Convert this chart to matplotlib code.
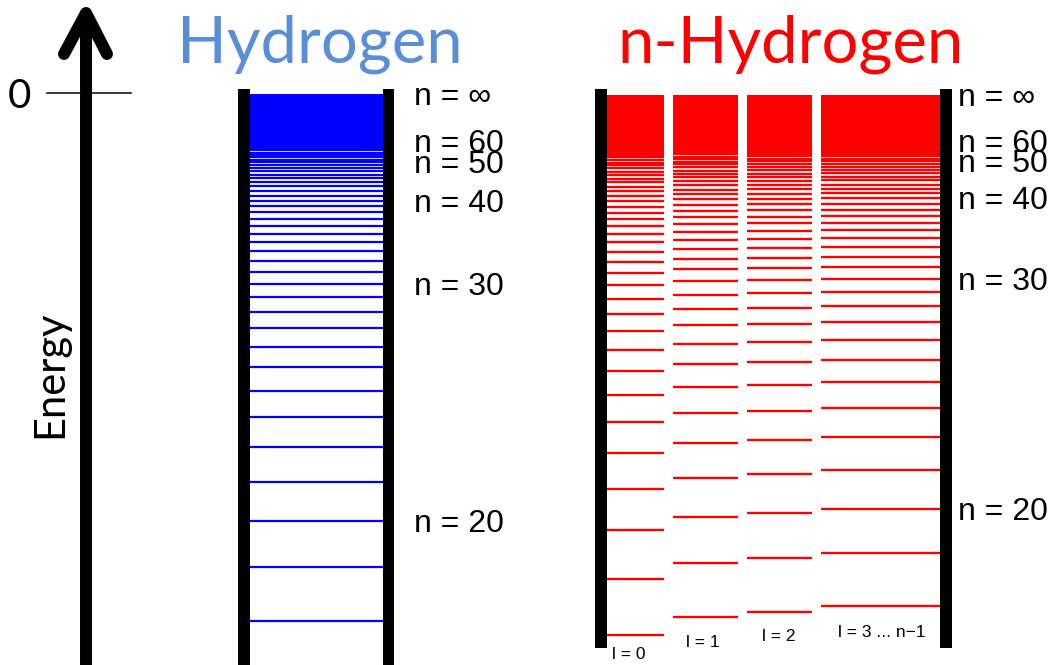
import numpy as np
import matplotlib
matplotlib.use('Agg')
import matplotlib.pyplot as plt
from matplotlib.patches import Rectangle

# ---------------- data ----------------
principal_n = np.arange(18, 401)                  # principal quantum numbers of drawn levels
label_n = [np.inf, 60, 50, 40, 30, 20]            # levels that get an "n = ..." label
label_text = ['n = ∞', 'n = 60', 'n = 50', 'n = 40', 'n = 30', 'n = 20']
l_names = ['l = 0', 'l = 1', 'l = 2', 'l = 3 ... n\u22121']
quantum_defects = [0.5, 0.2, 0.1, 0.0]            # n-Hydrogen defect per l column
n_axis_min = 17.3                                 # lowest n visible at the bottom of the panels

# ---------------- layout ----------------
W, H = 1056, 665
fig = plt.figure(figsize=(W / 100, H / 100), dpi=100)
ov = fig.add_axes([0, 0, 1, 1])
ov.set_xlim(0, W)
ov.set_ylim(H, 0)
ov.axis('off')


def fwd(n):
    n = np.asarray(n, dtype=float)
    with np.errstate(divide='ignore'):
        return -1.0 / np.square(n)


def inv(e):
    e = np.asarray(e, dtype=float)
    return 1.0 / np.sqrt(np.maximum(-e, 1e-300))


def level_axes(x0, x1, ytop, ybot):
    ax = fig.add_axes([x0 / W, 1 - ybot / H, (x1 - x0) / W, (ybot - ytop) / H])
    ax.set_yscale('function', functions=(fwd, inv))
    ax.set_ylim(n_axis_min, 1e9)
    ax.set_xlim(0, 1)
    ax.axis('off')
    ax.patch.set_alpha(0)
    return ax


# energy arrow
ov.plot([86, 86], [H + 10, 13], color='black', lw=8.6, solid_capstyle='butt')
ov.plot([64, 86, 107], [54, 13, 54], color='black', lw=8.6,
        solid_capstyle='round', solid_joinstyle='round')
ov.plot([47, 131], [93.3, 93.3], color='black', lw=1.1)
ov.text(19, 97, '0', fontsize=29, family='Lato', ha='center', va='center')
ov.text(50, 374, 'Energy', fontsize=30, family='Lato', rotation=90,
        ha='center', va='center')

# titles
ov.text(177, 63, 'Hydrogen', fontsize=47, family='Lato', color='#5a8fd8',
        ha='left', va='baseline')
ov.text(617, 62, 'n-Hydrogen', fontsize=47, family='Lato', color='#ff0000',
        ha='left', va='baseline')

# black frame bars
for (x, y, w, h) in [(238, 89, 12, 600), (383, 89, 11, 600),
                     (595, 89, 12, 559), (940, 89, 12, 559)]:
    ov.add_patch(Rectangle((x, y), w, h, color='black', lw=0))

# ---- Hydrogen panel ----
axh = level_axes(250, 383, 94, H)
axh.hlines(principal_n, 0, 1, color='#0000ff', lw=1.6)
for n, t in zip(label_n, label_text):
    axh.annotate(t, xy=(1, n), xycoords=('axes fraction', 'data'),
                 xytext=(31, -11), textcoords='offset pixels',
                 ha='left', va='baseline', fontsize=23,
                 family='Liberation Sans', annotation_clip=False)

# ---- n-Hydrogen panel ----
cols = [(607, 664), (673, 738), (747, 812), (821, 940)]
axes_r = []
for (x0, x1), d in zip(cols, quantum_defects):
    ax = level_axes(x0, x1, 95, 648)
    ax.hlines(principal_n - d, 0, 1, color='#ff0000', lw=1.7)
    axes_r.append(ax)
for n, t in zip(label_n, label_text):
    axes_r[-1].annotate(t, xy=(1, n), xycoords=('axes fraction', 'data'),
                        xytext=(18, -11), textcoords='offset pixels',
                        ha='left', va='baseline', fontsize=23,
                        family='Liberation Sans', annotation_clip=False)

# l labels
for name, (xc, yb) in zip(l_names, [(629, 659), (703, 647), (779, 641), (882, 637)]):
    ov.text(xc, yb, name, fontsize=12.5, family='Liberation Sans',
            ha='center', va='baseline')

fig.savefig('out.png', dpi=100)
